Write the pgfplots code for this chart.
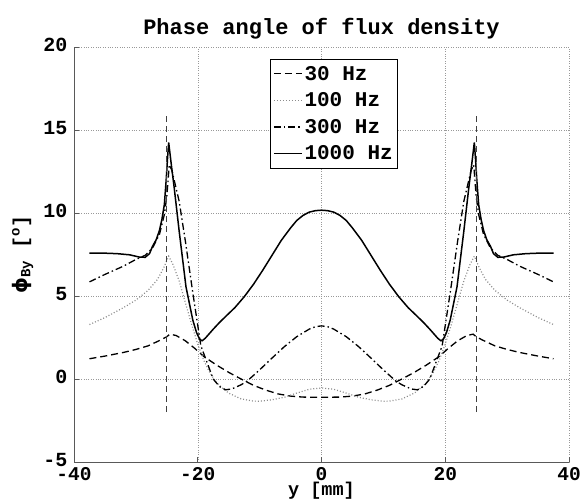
\documentclass[border=0pt]{standalone}
\usepackage{fontspec}
\setmainfont{Liberation Mono}
\newfontfamily\dejavu{DejaVu Sans}
\usepackage{pgfplots}
\pgfplotsset{compat=1.18}
\begin{document}
\begin{tikzpicture}
\begin{axis}[
 scale only axis, width=495pt, height=415pt,
 xmin=-40, xmax=40, ymin=-5, ymax=20,
 axis x line*=bottom, axis y line*=left,
 axis line style={black!65, line width=0.8pt},
 xtick={-40,-20,0,20,40}, xticklabels={-40,-20,0,20,40},
 ytick={-5,0,5,10,15,20}, yticklabels={-5,0,5,10,15,20},
 tick align=inside, major tick length=5pt,
 tick style={black!65, line width=0.6pt},
 grid=major, grid style={dotted, black!40, line width=0.5pt},
 ticklabel style={font=\fontsize{20}{20}\selectfont\bfseries, inner sep=0.5pt},
 xticklabel style={yshift=-5pt, font=\fontsize{19.5}{19.5}\selectfont\bfseries},
 yticklabel style={xshift=-6pt, yshift=2pt},
 title={Phase angle of flux density},
 title style={font=\fontsize{22}{22}\selectfont\bfseries, yshift=-2pt},
 xlabel={y [mm]},
 xlabel style={font=\fontsize{18.5}{18.5}\selectfont\bfseries, inner sep=0pt, yshift=0pt},
 ylabel={{\dejavu ϕ}\textsubscript{By} [\textsuperscript{o}]},
 ylabel style={font=\fontsize{20}{20}\selectfont\bfseries, yshift=6pt},
 legend style={at={(axis cs:2,19.3)}, anchor=north, draw=black, line width=0.9pt,
   fill=white, font=\fontsize{21}{21}\selectfont\bfseries, row sep=7pt,
   inner xsep=3pt, inner ysep=5pt, cells={anchor=west}},
 legend image code/.code={\draw[#1] plot coordinates {(0pt,0pt) (14pt,0pt) (28pt,0pt)};},
]
% 30 Hz
\addplot[black, line width=1.3pt, dash pattern=on 7pt off 4pt] coordinates {
(-37.5,1.22) (-35,1.38) (-32,1.6) (-30,1.78) (-28,2.0) (-26,2.35) (-25,2.55) (-24.5,2.7)
(-23.5,2.62) (-22,2.3) (-20.5,1.85) (-19,1.35) (-17,0.85) (-15,0.4) (-13,0.0) (-11,-0.38)
(-9,-0.67) (-7,-0.9) (-5,-1.03) (-3,-1.09) (0,-1.1)
(3,-1.09) (5,-1.03) (7,-0.9) (9,-0.67) (11,-0.38) (13,0.0) (15,0.4) (17,0.85) (19,1.35)
(20.5,1.85) (22,2.3) (23.5,2.62) (24.5,2.7) (25,2.55) (26,2.35) (28,2.0) (30,1.78) (32,1.6)
(35,1.38) (37.5,1.22)};
% 100 Hz
\addplot[black!45, line width=1.2pt, dash pattern=on 1pt off 2pt] coordinates {
(-37.5,3.28) (-35,3.7) (-32,4.3) (-30,4.75) (-28,5.35) (-26.5,6.0) (-25.5,6.7) (-24.7,7.4)
(-24,6.9) (-23,5.9) (-22,4.6) (-21,3.3) (-20,2.1) (-19,1.1) (-18,0.35) (-17,-0.2) (-16,-0.55)
(-15,-0.85) (-13,-1.2) (-11,-1.33) (-10,-1.34) (-8,-1.25) (-6,-1.1) (-4,-0.85) (-2,-0.62) (0,-0.54)
(2,-0.62) (4,-0.85) (6,-1.1) (8,-1.25) (10,-1.34) (11,-1.33) (13,-1.2) (15,-0.85) (16,-0.55)
(17,-0.2) (18,0.35) (19,1.1) (20,2.1) (21,3.3) (22,4.6) (23,5.9) (24,6.9) (24.7,7.4) (25.5,6.7)
(26.5,6.0) (28,5.35) (30,4.75) (32,4.3) (35,3.7) (37.5,3.28)};
% 300 Hz
\addplot[black, line width=1.3pt, dash pattern=on 7pt off 3pt on 1.5pt off 3pt] coordinates {
(-37.5,5.85) (-35,6.3) (-32,6.8) (-30,7.2) (-28.5,7.45) (-27.3,7.9) (-26.2,8.7) (-25.4,9.9)
(-25,11.0) (-24.6,12.9) (-24.2,12.6) (-23,10.7) (-22,8.3) (-20.8,5.2) (-19.5,2.0) (-18.5,1.0)
(-17.5,0.0) (-16.5,-0.45) (-15.5,-0.65) (-14.5,-0.6) (-13,-0.35) (-12,-0.12) (-10,0.55)
(-8,1.26) (-6,1.95) (-4,2.55) (-2,3.0) (-1,3.15) (0,3.2)
(1,3.15) (2,3.0) (4,2.55) (6,1.95) (8,1.26) (10,0.55) (12,-0.12) (13,-0.35) (14.5,-0.6) (15.5,-0.65)
(16.5,-0.45) (17.5,0.0) (18.5,1.0) (19.5,2.0) (20.8,5.2) (22,8.3) (23,10.7) (24.2,12.6)
(24.6,12.9) (25,11.0) (25.4,9.9) (26.2,8.7) (27.3,7.9) (28.5,7.45) (30,7.2) (32,6.8) (35,6.3)
(37.5,5.85)};
% 1000 Hz
\addplot[black, line width=1.5pt] coordinates {
(-37.5,7.58) (-35,7.58) (-33,7.55) (-31,7.48) (-29.5,7.35) (-28.5,7.33) (-27.8,7.55)
(-27.3,8.0) (-26.7,8.4) (-26.2,8.94) (-25.8,9.6) (-25.4,10.5) (-25.1,12.0) (-24.9,13.2)
(-24.7,14.25) (-24.3,13.0) (-23.8,11.5) (-23.0,8.9) (-21.9,5.55) (-20.8,3.55) (-20.2,2.8)
(-19.7,2.4) (-19.3,2.3) (-18.8,2.45) (-17.5,3.0) (-16.5,3.4) (-15.4,3.8) (-14,4.3) (-12.5,4.95)
(-11,5.7) (-9.5,6.55) (-8,7.45) (-6.5,8.35) (-5,9.1) (-4,9.55) (-3,9.85) (-2,10.05) (-1,10.14) (0,10.17)
(1,10.14) (2,10.05) (3,9.85) (4,9.55) (5,9.1) (6.5,8.35) (8,7.45) (9.5,6.55) (11,5.7)
(12.5,4.95) (14,4.3) (15.4,3.8) (16.5,3.4) (17.5,3.0) (18.8,2.45) (19.3,2.3) (19.7,2.4) (20.2,2.8)
(20.8,3.55) (21.9,5.55) (23.0,8.9)
(23.8,11.5) (24.3,13.0) (24.7,14.25) (24.9,13.2) (25.1,12.0) (25.4,10.5) (25.8,9.6)
(26.2,8.94) (26.7,8.4) (27.3,8.0) (27.8,7.55) (28.5,7.33) (29.5,7.35) (31,7.48) (33,7.55)
(35,7.58) (37.5,7.58)};
\legend{30 Hz, 100 Hz, 300 Hz, 1000 Hz}
% vertical lines
\addplot[black!75, line width=0.9pt, dash pattern=on 6pt off 4pt, forget plot] coordinates {(-25,-2) (-25,16)};
\addplot[black!75, line width=0.9pt, dash pattern=on 6pt off 4pt, forget plot] coordinates {(25,-2) (25,16)};
\end{axis}
\pgfresetboundingbox
\path ([shift={(-74pt,-40pt)}]current axis.south west) rectangle ([shift={(13pt,47pt)}]current axis.north east);
\end{tikzpicture}
\end{document}
